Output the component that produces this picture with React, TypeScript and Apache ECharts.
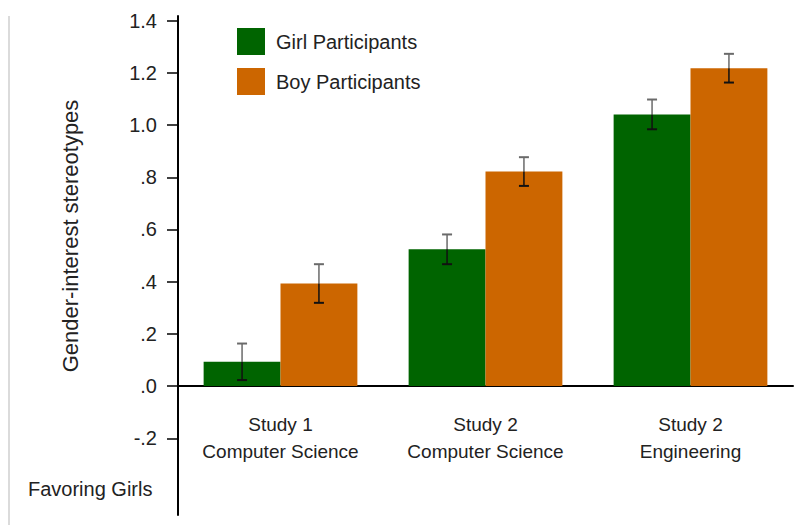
import React, { useEffect, useRef } from "react";
import * as echarts from "echarts";

const categories = ["Study 1\nComputer Science", "Study 2\nComputer Science", "Study 2\nEngineering"];
const girlValues = [0.093, 0.524, 1.041];
const boyValues = [0.393, 0.822, 1.218];
const girlErrors = [0.07, 0.057, 0.057];
const boyErrors = [0.074, 0.055, 0.055];
const tickValues = [-0.2, 0, 0.2, 0.4, 0.6, 0.8, 1.0, 1.2, 1.4];
const tickLabels = ["-.2", ".0", ".2", ".4", ".6", ".8", "1.0", "1.2", "1.4"];
const yName = "Gender-interest stereotypes";
const bottomNote = "Favoring Girls";
const seriesNames = ["Girl Participants", "Boy Participants"];

const FONT = "'Liberation Sans', Arial, sans-serif";
const TEXT = "#222";

export default function App() {
  const ref = useRef<HTMLDivElement>(null);
  useEffect(() => {
    const chart = echarts.init(ref.current!, null, { renderer: "svg" });
    const barCategoryGap = 0.25;
    const errorRender = (params: any, api: any) => {
      const idx = api.value(0);
      const val = api.value(1);
      const err = api.value(2);
      const side = api.value(3);
      const band = api.size([1, 0])[0];
      const barW = (band * (1 - barCategoryGap)) / 2;
      const c = api.coord([idx, val]);
      const x = c[0] + (side * barW) / 2;
      const yTop = api.coord([idx, val + err])[1];
      const yBar = c[1];
      const yBot = api.coord([idx, val - err])[1];
      const cap = 5;
      return {
        type: "group",
        children: [
          { type: "line", shape: { x1: x, y1: yTop, x2: x, y2: yBar }, style: { stroke: "#6a6a6a", lineWidth: 1.5 } },
          { type: "line", shape: { x1: x, y1: yBar, x2: x, y2: yBot }, style: { stroke: "#111", lineWidth: 1.5 } },
          { type: "line", shape: { x1: x - cap, y1: yTop, x2: x + cap, y2: yTop }, style: { stroke: "#6a6a6a", lineWidth: 2 } },
          { type: "line", shape: { x1: x - cap, y1: yBot, x2: x + cap, y2: yBot }, style: { stroke: "#111", lineWidth: 2 } },
        ],
      };
    };
    const fmt = (v: number) => {
      const i = tickValues.findIndex((t) => Math.abs(t - v) < 1e-6);
      return i >= 0 ? tickLabels[i] : "";
    };
    chart.setOption({
      animation: false,
      textStyle: { fontFamily: FONT },
      grid: { left: 178, right: 2, top: 16, bottom: 10, containLabel: false, outerBoundsMode: "none" },
      legend: {
        data: seriesNames,
        orient: "vertical",
        left: 232,
        top: 23,
        itemWidth: 28,
        itemHeight: 27,
        itemGap: 13,
        icon: "rect",
        textStyle: { fontSize: 20, color: TEXT, fontFamily: FONT, padding: [0, 0, 0, 6] },
      },
      xAxis: {
        type: "category",
        data: categories,
        axisLine: { show: true, onZero: true, lineStyle: { color: "#000", width: 2 } },
        axisTick: { show: false },
        axisLabel: { fontSize: 19, lineHeight: 27, color: TEXT, margin: -104, fontFamily: FONT, interval: 0 },
      },
      yAxis: {
        type: "value",
        min: -0.494,
        max: 1.418,
        splitLine: { show: false },
        axisLine: { show: true, onZero: false, lineStyle: { color: "#000", width: 2 } },
        axisTick: { show: true, length: 11, customValues: tickValues, lineStyle: { color: "#000", width: 1.5 } },
        axisLabel: { customValues: tickValues, formatter: fmt, fontSize: 20, color: TEXT, margin: 21, fontFamily: FONT },
      },
      series: [
        {
          name: seriesNames[0],
          type: "bar",
          data: girlValues,
          barGap: "0%",
          barCategoryGap: "25%",
          itemStyle: { color: "#006400" },
        },
        {
          name: seriesNames[1],
          type: "bar",
          data: boyValues,
          barGap: "0%",
          barCategoryGap: "25%",
          itemStyle: { color: "#cc6600" },
        },
        {
          name: "girlErr",
          type: "custom",
          renderItem: errorRender,
          encode: { x: 0, y: 1 },
          data: girlValues.map((v, i) => [i, v, girlErrors[i], -1]),
          z: 5,
        },
        {
          name: "boyErr",
          type: "custom",
          renderItem: errorRender,
          encode: { x: 0, y: 1 },
          data: boyValues.map((v, i) => [i, v, boyErrors[i], 1]),
          z: 5,
        },
      ],
      graphic: [
        { type: "line", shape: { x1: 9, y1: 16, x2: 9, y2: 525 }, style: { stroke: "#cfcfcf", lineWidth: 1.5 } },
        {
          type: "text",
          x: 70,
          y: 236,
          rotation: Math.PI / 2,
          style: { text: yName, fontSize: 22, fill: TEXT, font: `22px ${FONT}`, textAlign: "center", textVerticalAlign: "middle" },
        },
        {
          type: "text",
          x: 28,
          y: 489,
          style: { text: bottomNote, fontSize: 20, fill: TEXT, font: `20px ${FONT}`, textAlign: "left", textVerticalAlign: "middle" },
        },
      ],
    });
    return () => chart.dispose();
  }, []);
  return <div ref={ref} style={{ position: "fixed", left: 0, top: 0, width: 795, height: 525, background: "#fff" }} />;
}
